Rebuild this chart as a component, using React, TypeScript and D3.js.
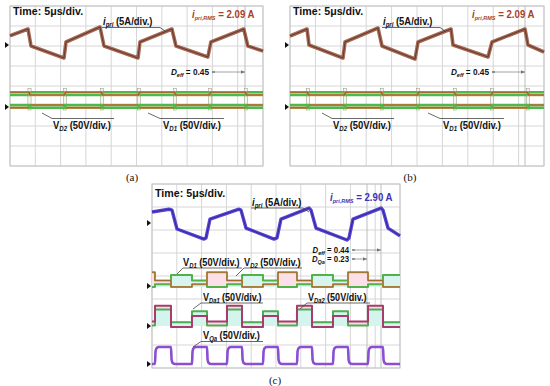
import React from 'react';
import * as d3 from 'd3';

const FONT = "'Liberation Sans', Arial, Helvetica, sans-serif";
const SERIF = "'Liberation Serif', 'Times New Roman', serif";

// ---------- data (time in µs, 5 µs/div; current in A, 5 A/div; voltage in V, 50 V/div)
const timeTicks = [0, 5, 10, 15, 20, 25, 30, 35, 40, 45, 50];
const rowTicks = [0, 1, 2, 3, 4, 5, 6, 7, 8];

// Panel (a)
const ipriA_t = [0, 3.56, 4.15, 10.67, 11.07, 17.79, 18.58, 25.3, 25.69, 32.0, 32.8, 39.1, 39.7, 46.2, 47.0, 50];
const ipriA_i = [2.3, 4.0, -0.25, -3.25, 0.75, 4.5, -0.25, -3.25, 0.75, 4.0, -0.25, -3.0, 0.75, 4.0, -0.25, -1.5];
const swA = [0, 3.85, 10.87, 18.18, 25.49, 32.61, 39.53, 46.64, 50];
const vd1A_hi = [30, 37, 30, 37, 30, 37, 30, 37];
const vd2A_hi = [37, 30, 37, 30, 37, 30, 37, 30];
const vd1A_lo = [5, -2, 5, -2, 5, -2, 5, -2];
const vd2A_lo = [-2, 5, -2, 5, -2, 5, -2, 5];

// Panel (b)
const ipriB_t = [0, 3.35, 3.74, 10.43, 10.83, 17.32, 18.11, 24.61, 25.2, 31.69, 32.09, 38.98, 39.76, 46.26, 46.85, 50];
const ipriB_i = [2.25, 4.0, 0, -3.25, 0.75, 4.25, -0.25, -3.5, 0.75, 4.0, 0, -3.0, 0.75, 4.0, 0, -1.75];
const swB = [0, 3.54, 10.83, 18.11, 25.2, 32.48, 39.76, 46.85, 50];
const vd1B_hi = [30, 37, 30, 37, 30, 37, 30, 37];
const vd2B_hi = [37, 30, 37, 30, 37, 30, 37, 30];
const vd1B_lo = [5, -2, 5, -2, 5, -2, 5, -2];
const vd2B_lo = [-2, 5, -2, 5, -2, 5, -2, 5];

// Panel (c)
const ipriC_t = [0, 3.43, 4.03, 5.04, 10.48, 10.89, 11.69, 17.54, 17.94, 18.95, 24.6, 25.2, 26.0, 31.65, 32.06, 33.06, 39.31, 39.72, 40.52, 46.17, 46.57, 47.58, 50];
const ipriC_i = [2.4, 3.0, 2.8, -1.3, -3.5, -3.25, 0.85, 3.0, 2.8, -1.1, -3.5, -3.25, 0.85, 3.25, 2.8, -1.1, -3.7, -3.25, 0.85, 3.25, 2.8, -1.1, -2.8];
const swC = [0, 0.6, 3.83, 8.06, 11.09, 15.12, 18.15, 22.38, 25.4, 29.23, 32.26, 36.49, 39.52, 43.55, 46.57, 50];
const vd1C = [-2, 4, 24, 12, -2, 4, 24, 12, -2, 4, 24, 12, -2, 4, 24];
const vd2C = [30, 12, -2, 4, 30, 12, -2, 4, 30, 12, -2, 4, 30, 12, -2];
const vda1C = [1, 36, 8, 32, 1, 36, 8, 32, 1, 36, 8, 32, 1, 36, 8];
const vda2C = [10, 44, -2, 22, 10, 44, -2, 22, 10, 44, -2, 22, 10, 44, -2];
const vqaC = [0, 37, 0, 37, 0, 37, 0, 37, 0, 37, 0, 37, 0, 37, 0];

// ---------- helpers
type Pt = [number, number];
const zip = (t: number[], v: number[]): Pt[] => t.map((tt, i) => [tt, v[i]]);
const stepPts = (b: number[], lv: number[]): Pt[] => {
  const p: Pt[] = [];
  lv.forEach((v, i) => { p.push([b[i], v]); p.push([b[i + 1], v]); });
  return p;
};
// step trace with finite rise/fall (scope bandwidth look)
const edgePts = (b: number[], lv: number[]): Pt[] => {
  const p: Pt[] = [[b[0], lv[0]]];
  for (let i = 1; i < lv.length; i++) {
    const a = lv[i - 1], n = lv[i], t = b[i];
    p.push([t, a]);
    p.push([t + 0.12, a + (n - a) * 0.75]);
    p.push([t + 0.35, a + (n - a) * 0.94]);
    p.push([t + 0.8, n]);
  }
  p.push([b[b.length - 1], lv[lv.length - 1]]);
  return p;
};

function Grid({ x, top, bottom, cursors }: any) {
  const y = d3.scaleLinear().domain([0, 8]).range([top, bottom]);
  const [l, r] = x.range();
  return (
    <g>
      {timeTicks.map((t) => <line key={'v' + t} x1={x(t)} x2={x(t)} y1={top} y2={bottom} stroke="#d6d6d6" strokeWidth={1} />)}
      {rowTicks.map((k) => <line key={'h' + k} x1={l} x2={r} y1={y(k)} y2={y(k)} stroke="#d6d6d6" strokeWidth={1} />)}
      {cursors.map((c: number, i: number) => <line key={'c' + i} x1={c} x2={c} y1={top} y2={bottom} stroke="#bdbdbd" strokeWidth={1} />)}
      <rect x={l} y={top} width={r - l} height={bottom - top} fill="none" stroke="#c4c4c4" strokeWidth={1} />
    </g>
  );
}

function Marker({ x, y }: any) {
  return <path d={`M${x - 4},${y - 3} L${x},${y} L${x - 4},${y + 3} Z`} fill="#111" />;
}

function Trace({ pts, x, y, color, width, core, coreWidth = 0.9, curve = d3.curveLinear }: any) {
  const line = d3.line<Pt>().x((d) => x(d[0])).y((d) => y(d[1])).curve(curve);
  const d = line(pts) || '';
  return (
    <g>
      <path d={d} fill="none" stroke={color} strokeWidth={width} strokeLinejoin="round" />
      {core && <path d={d} fill="none" stroke={core} strokeWidth={coreWidth} strokeLinejoin="round" />}
    </g>
  );
}

function Tint({ pts, x, y, base, color }: any) {
  const area = d3.area<Pt>().x((d) => x(d[0])).y0(y(base)).y1((d) => y(d[1]));
  return <path d={area(pts) || ''} fill={color} stroke="none" />;
}

function SubLabel({ x, y, main, sub, rest, size = 9, color = '#111', anchor = 'start', italicMain = false, subSize, sx = 1 }: any) {
  const ss = subSize || size * 0.64;
  return (
    <g transform={`translate(${x},${y}) scale(${sx},1)`}>
      <text x={0} y={0} fontFamily={FONT} fontWeight="bold" fontSize={size} fill={color} textAnchor={anchor}>
        <tspan fontStyle={italicMain ? 'italic' : 'normal'}>{main}</tspan>
        <tspan fontSize={ss} fontStyle="italic" dy={size * 0.22}>{sub}</tspan>
        <tspan dy={-size * 0.22}>{rest}</tspan>
      </text>
    </g>
  );
}

function TimeLabel({ x, y }: any) {
  return (
    <g transform={`translate(${x},${y}) scale(0.97,1)`}>
      <text x={0} y={0} fontFamily={FONT} fontWeight="bold" fontSize={11} fill="#111">Time: 5μs/div.</text>
    </g>
  );
}

function Leader({ pts }: any) {
  return <polyline points={pts.map((p: number[]) => p.join(',')).join(' ')} fill="none" stroke="#444" strokeWidth={0.8} />;
}

function DutyArrow({ x1, x2, y, sub, value, size = 9 }: any) {
  return (
    <g>
      <SubLabel x={x1 - 3} y={y + 3} main="D" sub={sub} rest={` = ${value}`} size={size} anchor="end" italicMain subSize={6} sx={0.92} />
      <line x1={x1} x2={x2} y1={y} y2={y} stroke="#8a8a8a" strokeWidth={0.8} />
      <line x1={x1} x2={x1 + 3} y1={y} y2={y} stroke="#555" strokeWidth={1} />
      <path d={`M${x2 - 4},${y - 1.8} L${x2},${y} L${x2 - 4},${y + 1.8} Z`} fill="#777" />
    </g>
  );
}

function Transitions({ sw, x, top, bottom, dot }: any) {
  return (
    <g>
      {sw.slice(1, -1).map((t: number, i: number) => (
        <g key={i}>
          <rect x={x(t) - 1.6} y={top} width={3.2} height={bottom - top} fill="#f6f6ee" stroke="#9ea58a" strokeWidth={0.6} />
          <ellipse cx={x(t)} cy={dot} rx={2.3} ry={2.1} fill="#9fd27f" />
        </g>
      ))}
    </g>
  );
}

function PanelAB({ left, right, t, i, sw, vd1hi, vd2hi, vd1lo, vd2lo, cursor, label }: any) {
  const top = 6, bottom = 166;
  const x = d3.scaleLinear().domain([0, 50]).range([left, right]);
  const yI = d3.scaleLinear().domain([0, 5]).range([45, 25]);
  const yV = d3.scaleLinear().domain([0, 50]).range([107, 87]);
  return (
    <g>
      <Grid x={x} top={top} bottom={bottom} cursors={[cursor]} />
      <Transitions sw={sw} x={x} top={88.5} bottom={110} dot={107} />
      <Trace pts={stepPts(sw, vd1hi)} x={x} y={yV} color="#4fb84a" width={2.5} />
      <Trace pts={stepPts(sw, vd2hi)} x={x} y={yV} color="#c59a4e" width={2.5} core="#7a4e22" coreWidth={0.8} />
      <Trace pts={stepPts(sw, vd2lo)} x={x} y={yV} color="#c59a4e" width={2.5} core="#7a4e22" coreWidth={0.8} />
      <Trace pts={stepPts(sw, vd1lo)} x={x} y={yV} color="#4fb84a" width={2.5} />
      <Trace pts={zip(t, i)} x={x} y={yI} color="#a36a55" width={3.6} core="#6d3a2c" coreWidth={1.1} />
      <Marker x={left - 1} y={45} />
      <Marker x={left - 1} y={107} />
      <TimeLabel x={left + 3} y={14.5} />
      <SubLabel x={left + 182} y={18} main="i" sub="pri,RMS" rest=" = 2.09 A" size={10.5} color="#a8402c" italicMain subSize={6} sx={0.92} />
      <Leader pts={[[left + 92, 27.5], [left + 150, 27.5], [left + 155, 31]]} />
      <SubLabel x={left + 93} y={24.5} main="i" sub="pri" rest=" (5A/div.)" size={10.5} italicMain sx={0.9} />
      <DutyArrow x1={left + 202} x2={cursor} y={72} sub="eff" value="0.45" />
      <Leader pts={[[left + 32, 113], [left + 42, 118.5], [left + 104, 118.5]]} />
      <SubLabel x={left + 43} y={129} main="V" sub="D2" rest=" (50V/div.)" size={10.5} sx={0.9} />
      <Leader pts={[[left + 138, 113], [left + 150, 118.5], [left + 214, 118.5]]} />
      <SubLabel x={left + 153} y={129} main="V" sub="D1" rest=" (50V/div.)" size={10.5} sx={0.9} />
      <text x={label[1]} y={181} fontFamily={SERIF} fontSize={11} textAnchor="middle" fill="#111">{label[0]}</text>
    </g>
  );
}

function PanelC() {
  const left = 152, right = 400, top = 184, bottom = 368;
  const x = d3.scaleLinear().domain([0, 50]).range([left, right]);
  const divH = (bottom - top) / 8;
  const yI = d3.scaleLinear().domain([0, 5]).range([223, 223 - divH]);
  const y1 = d3.scaleLinear().domain([0, 50]).range([286, 286 - divH]);
  const y2 = d3.scaleLinear().domain([0, 50]).range([326, 326 - divH]);
  const y3 = d3.scaleLinear().domain([0, 50]).range([364, 364 - divH]);
  return (
    <g>
      <Grid x={x} top={top} bottom={bottom} cursors={[367, 381]} />
      <Tint pts={stepPts(swC, vd2C)} x={x} y={y1} base={-2} color="#fbe0ea" />
      <Tint pts={stepPts(swC, vd1C)} x={x} y={y1} base={-2} color="#d8f4ee" />
      <Tint pts={stepPts(swC, vda2C)} x={x} y={y2} base={0} color="#fbdbe8" />
      <Tint pts={stepPts(swC, vda1C)} x={x} y={y2} base={0} color="#d4f4ee" />
      <Trace pts={stepPts(swC, vd1C)} x={x} y={y1} color="#52b24a" width={2} />
      <Trace pts={stepPts(swC, vd2C)} x={x} y={y1} color="#c09448" width={2} core="#7d5424" coreWidth={0.6} />
      <Trace pts={stepPts(swC, vda1C)} x={x} y={y2} color="#4eae54" width={2} />
      <Trace pts={stepPts(swC, vda2C)} x={x} y={y2} color="#a83c6c" width={2} />
      <Trace pts={edgePts(swC, vqaC)} x={x} y={y3} color="#8a4fd2" width={2.6} curve={d3.curveMonotoneX} />
      <Trace pts={zip(ipriC_t, ipriC_i)} x={x} y={yI} color="#5646d0" width={3.4} core="#3322a0" coreWidth={0.9} />
      <Marker x={151} y={223} />
      <Marker x={151} y={286} />
      <Marker x={151} y={326} />
      <Marker x={151} y={364} />
      <TimeLabel x={155} y={197} />
      <SubLabel x={330} y={200.5} main="i" sub="pri,RMS" rest=" = 2.90 A" size={10.5} color="#3b34b8" italicMain subSize={6} sx={0.92} />
      <Leader pts={[[251, 208], [303, 208], [309, 212]]} />
      <SubLabel x={252} y={205.5} main="i" sub="pri" rest=" (5A/div.)" size={10.5} italicMain sx={0.9} />
      <DutyArrow x1={352} x2={381} y={250} sub="eff" value="0.44" size={8.5} />
      <DutyArrow x1={352} x2={367} y={259} sub="Qa" value="0.23" size={8.5} />
      <Leader pts={[[177, 274], [183, 268], [242, 268]]} />
      <SubLabel x={183} y={265.5} main="V" sub="D1" rest=" (50V/div.)" size={10.5} sx={0.88} />
      <Leader pts={[[236, 276], [244, 268], [302, 268]]} />
      <SubLabel x={244} y={265.5} main="V" sub="D2" rest=" (50V/div.)" size={10.5} sx={0.88} />
      <Leader pts={[[193, 309], [201, 303], [263, 303]]} />
      <SubLabel x={203} y={300.5} main="V" sub="Da1" rest=" (50V/div.)" size={10.5} sx={0.86} />
      <Leader pts={[[300, 309], [307, 303], [370, 303]]} />
      <SubLabel x={308} y={300.5} main="V" sub="Da2" rest=" (50V/div.)" size={10.5} sx={0.86} />
      <Leader pts={[[193, 347], [201, 341.5], [263, 341.5]]} />
      <SubLabel x={203} y={339} main="V" sub="Qa" rest=" (50V/div.)" size={10.5} sx={0.88} />
      <text x={275} y={384} fontFamily={SERIF} fontSize={11} textAnchor="middle" fill="#111">(c)</text>
    </g>
  );
}

export default function App() {
  return (
    <svg width={550} height={386} viewBox="0 0 550 386" style={{ position: 'absolute', left: 0, top: 0, background: '#fff' }}>
      <rect x={0} y={0} width={550} height={386} fill="#fff" />
      <PanelAB left={10} right={263} t={ipriA_t} i={ipriA_i} sw={swA} vd1hi={vd1A_hi} vd2hi={vd2A_hi} vd1lo={vd1A_lo} vd2lo={vd2A_lo} cursor={245} label={['(a)', 132]} />
      <PanelAB left={290} right={544} t={ipriB_t} i={ipriB_i} sw={swB} vd1hi={vd1B_hi} vd2hi={vd2B_hi} vd1lo={vd1B_lo} vd2lo={vd2B_lo} cursor={525} label={['(b)', 410]} />
      <PanelC />
    </svg>
  );
}
